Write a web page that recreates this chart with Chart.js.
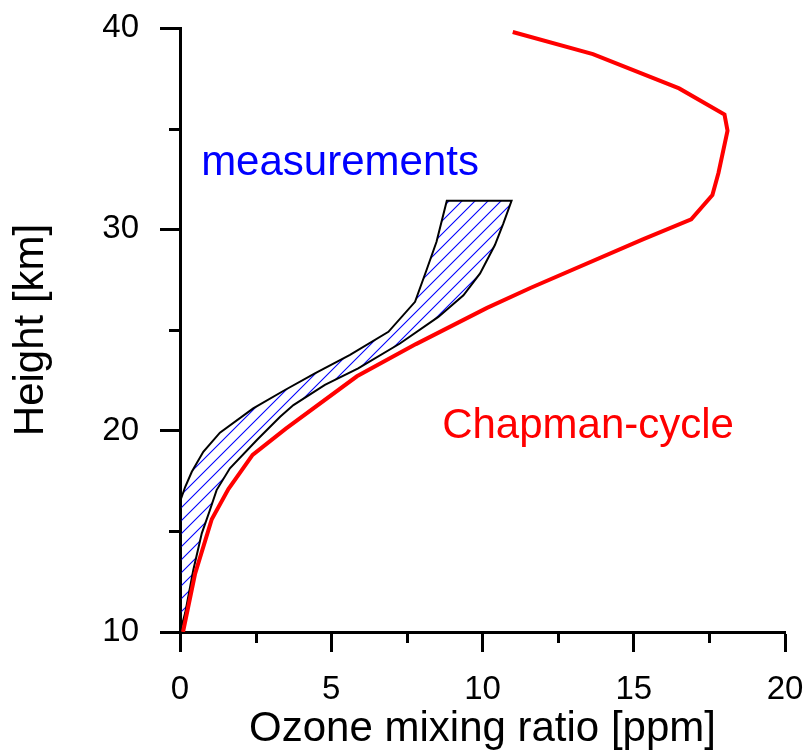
<!DOCTYPE html>
<html>
<head>
<meta charset="utf-8">
<title>Ozone profile</title>
<script src="https://cdn.jsdelivr.net/npm/chart.js@4"></script>
<style>
  body { margin: 0; background: #fff; }
  #wrap { width: 806px; height: 756px; }
</style>
</head>
<body>
<div id="wrap"><canvas id="chart"></canvas></div>
<script>
// ========================
// Données
// ========================

// Profil calculé (cycle de Chapman) : hauteur [km] / ozone [ppm]
const chapmanHeight = [10.0, 12.9, 15.6, 17.1, 18.8, 20.1, 22.7, 24.3, 26.1, 27.1, 29.5, 30.5, 31.7, 32.8, 34.9, 35.7, 37.0, 38.7, 39.8];
const chapmanOzone  = [0.1, 0.5, 1.05, 1.6, 2.4, 3.5, 5.85, 7.8, 10.15, 11.6, 15.3, 16.9, 17.6, 17.8, 18.1, 18.0, 16.5, 13.65, 11.0];

// Bande des mesures : bord gauche (de bas en haut)
const measLeftHeight = [10.0, 16.56, 17.2, 17.96, 18.95, 19.9, 21.11, 22.02, 22.85, 23.76, 24.91, 26.4, 27.98, 29.38, 31.42];
const measLeftOzone  = [0.0, 0.02, 0.17, 0.39, 0.77, 1.32, 2.42, 3.47, 4.46, 5.62, 6.89, 7.77, 8.15, 8.48, 8.82];

// Bande des mesures : bord droit (de haut en bas)
const measRightHeight = [31.42, 30.3, 29.22, 27.81, 26.72, 25.65, 24.33, 23.09, 22.27, 21.27, 20.69, 19.55, 18.13, 17.05, 16.06, 14.9, 13.08, 10.94, 10.0];
const measRightOzone  = [10.96, 10.69, 10.41, 9.92, 9.37, 8.54, 7.27, 5.89, 4.79, 3.75, 3.31, 2.55, 1.65, 1.21, 0.99, 0.72, 0.44, 0.17, 0.0];

// Graduations
const xMajorTicks = [0, 5, 10, 15, 20];
const xMinorTicks = [2.5, 7.5, 12.5, 17.5];
const yMajorTicks = [10, 20, 30, 40];
const yMinorTicks = [15, 25, 35];

const FONT = '"Liberation Sans", Arial, Helvetica, sans-serif';
Chart.defaults.font.family = FONT;
Chart.defaults.color = '#000';

const chapmanData = chapmanHeight.map((h, i) => ({ x: chapmanOzone[i], y: h }));
const bandData = measLeftHeight.map((h, i) => ({ x: measLeftOzone[i], y: h }))
  .concat(measRightHeight.map((h, i) => ({ x: measRightOzone[i], y: h })));

// Motif hachuré bleu
function hatchPattern() {
  const s = 13;
  const c = document.createElement('canvas');
  c.width = s; c.height = s;
  const g = c.getContext('2d');
  g.strokeStyle = '#0000ff';
  g.lineWidth = 1.1;
  g.beginPath();
  g.moveTo(0, s); g.lineTo(s, 0);
  g.moveTo(-1, 1); g.lineTo(1, -1);
  g.moveTo(s - 1, s + 1); g.lineTo(s + 1, s - 1);
  g.stroke();
  return g.createPattern(c, 'repeat');
}

// pas de marge automatique autour des axes (zone du graphe fixée à la main)
function fixAxis(s, size) {
  if (s.isHorizontal()) s.height = size; else s.width = size;
  s.paddingTop = s.paddingBottom = s.paddingLeft = s.paddingRight = 0;
}

// Petites graduations + étiquettes
const extras = {
  id: 'extras',
  afterDraw(chart) {
    const { ctx, scales: { x, y } } = chart;
    ctx.save();
    ctx.strokeStyle = '#000';
    ctx.lineWidth = 3;
    ctx.beginPath();
    xMinorTicks.forEach(v => {
      const px = Math.round(x.getPixelForValue(v)) + 0.5;
      ctx.moveTo(px, x.top);
      ctx.lineTo(px, x.top + 11);
    });
    yMinorTicks.forEach(v => {
      const py = Math.round(y.getPixelForValue(v)) + 0.5;
      ctx.moveTo(y.right, py);
      ctx.lineTo(y.right - 11, py);
    });
    ctx.stroke();

    ctx.font = '42px ' + FONT;
    ctx.textAlign = 'center';
    ctx.textBaseline = 'alphabetic';
    ctx.fillStyle = '#0000ff';
    ctx.fillText('measurements', x.getPixelForValue(5.29), y.getPixelForValue(32.7));
    ctx.fillStyle = '#ff0000';
    ctx.fillText('Chapman-cycle', x.getPixelForValue(13.49), y.getPixelForValue(19.63));
    ctx.restore();
  }
};

new Chart(document.getElementById('chart'), {
  type: 'line',
  data: {
    datasets: [
      {
        label: 'Chapman-cycle',
        data: chapmanData,
        borderColor: '#ff0000',
        borderWidth: 4,
        pointRadius: 0,
        fill: false,
        tension: 0
      },
      {
        label: 'measurements',
        data: bandData,
        borderColor: '#000000',
        borderWidth: 2,
        backgroundColor: hatchPattern(),
        fill: 'shape',
        pointRadius: 0,
        tension: 0
      }
    ]
  },
  options: {
    responsive: true,
    maintainAspectRatio: false,
    animation: false,
    layout: { padding: { top: 28, right: 21, left: 0, bottom: 0 } },
    plugins: {
      legend: { display: false },
      tooltip: { enabled: false }
    },
    scales: {
      x: {
        type: 'linear',
        min: 0,
        max: 20,
        afterBuildTicks: s => { s.ticks = xMajorTicks.map(v => ({ value: v })); },
        afterFit: s => fixAxis(s, 124),
        grid: { drawOnChartArea: false, tickLength: 20, tickWidth: 3, tickColor: '#000' },
        border: { color: '#000', width: 3 },
        ticks: { font: { size: 33 }, padding: 18, maxRotation: 0, color: '#000' },
        title: { display: true, text: 'Ozone mixing ratio [ppm]', font: { size: 42 }, padding: { top: 0, bottom: 1 }, color: '#000' }
      },
      y: {
        type: 'linear',
        min: 10,
        max: 40,
        afterBuildTicks: s => { s.ticks = yMajorTicks.map(v => ({ value: v })); },
        afterFit: s => fixAxis(s, 180),
        grid: { drawOnChartArea: false, tickLength: 20, tickWidth: 3, tickColor: '#000' },
        border: { color: '#000', width: 3 },
        ticks: { font: { size: 33 }, padding: 21, color: '#000' },
        title: { display: true, text: 'Height [km]', font: { size: 42 }, padding: { top: 6, bottom: 0 }, color: '#000' }
      }
    }
  },
  plugins: [extras]
});
</script>
</body>
</html>
